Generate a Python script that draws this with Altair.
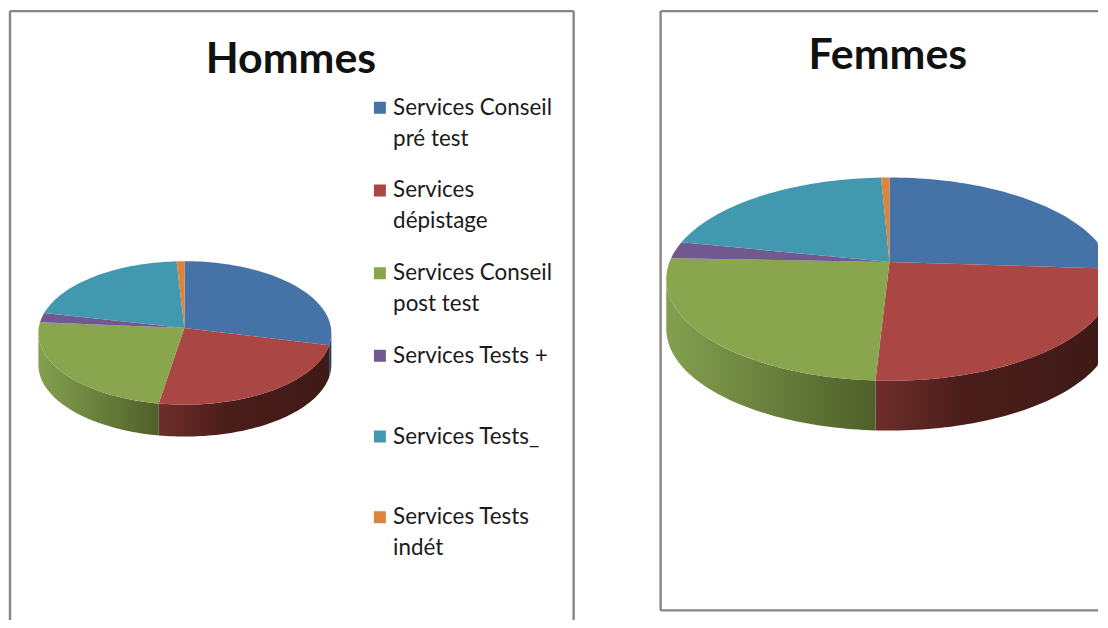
import math, json
import altair as alt

CATEGORIES = ["Services Conseil pré test", "Services dépistage", "Services Conseil post test",
              "Services Tests +", "Services Tests_", "Services Tests indét"]
LABEL_LINES = [["Services Conseil", "pré test"], ["Services", "dépistage"], ["Services Conseil", "post test"],
               ["Services Tests +"], ["Services Tests_"], ["Services Tests", "indét"]]
COLORS = ["#4573a7", "#aa4644", "#89a54e", "#71588f", "#4298af", "#db843d"]
WALLS = {
    0: [("#2b4a70", 0), ("#1d3350", 1)],
    1: [("#6e2e2b", 0), ("#4a1d1a", 0.4), ("#3f1a17", 1)],
    2: [("#83a04f", 0), ("#4f5f2a", 1)],
}
HOMMES = [27.7, 25.1, 24.5, 2.1, 19.6, 0.9]
FEMMES = [23.3, 27.7, 27.3, 2.6, 18.5, 0.6]
FRAME = "#868686"
OY = 8

def rim(cx, cy, rx, ry, t, xmax):
    r = math.radians(t)
    return [min(cx + rx * math.sin(r), xmax), cy - ry * math.cos(r)]

def collection(feats):
    return alt.InlineData(values={"type": "FeatureCollection", "features": feats},
                          format=alt.DataFormat(property="features", type="json"))

def feature(i, ring):
    return {"type": "Feature", "properties": {"name": CATEGORIES[i]},
            "geometry": {"type": "Polygon", "coordinates": [ring]}}

def pie_layers(values, apex, centre, rx, ry, depth, panel_x, w):
    ax, ay = apex[0] - panel_x, apex[1] - OY
    cx, cy = centre[0] - panel_x, centre[1] - OY
    feats, walls = [], []
    total = sum(values)
    t = 0.0
    for i, v in enumerate(values):
        t2 = t + 360.0 * v / total
        n = max(2, int((t2 - t) / 1.5))
        ts = [t + (t2 - t) * k / n for k in range(n + 1)]
        ring = [[ax, ay]] + [rim(cx, cy, rx, ry, a, w) for a in ts] + [[ax, ay]]
        feats.append(feature(i, ring))
        lo, hi = max(t, 90.0), min(t2, 270.0)
        if hi > lo and i in WALLS:
            n = max(2, int((hi - lo) / 1.5))
            ts = [lo + (hi - lo) * k / n for k in range(n + 1)]
            top = [rim(cx, cy, rx, ry, a, w) for a in ts]
            bot = [[p[0], p[1] + depth] for p in reversed(top)]
            walls.append((i, top + bot + [top[0]]))
        t = t2
    layers = []
    for i, ring in walls:
        grad = alt.Gradient(gradient="linear", x1=0, x2=1, y1=0, y2=0,
                            stops=[alt.GradientStop(offset=o, color=c) for c, o in WALLS[i]])
        layers.append(alt.Chart(collection([feature(i, ring)])).mark_geoshape(
            fill=grad, strokeWidth=0).project(type="identity", scale=1, translate=[0, 0]))
    return layers, collection(feats)

label_expr = json.dumps(dict(zip(CATEGORIES, LABEL_LINES)), ensure_ascii=False) + "[datum.label]"
legend = alt.Legend(orient="none", legendX=361, legendY=57.5, title=None, symbolType="square",
                    symbolSize=144, symbolStrokeWidth=0, labelFont="Lato", labelFontSize=22.5,
                    labelColor="#1a1a1a", labelExpr=label_expr, labelBaseline="top", labelLimit=300,
                    labelOffset=2, rowPadding=0, clipHeight=81, padding=0)

def frame_rule(x1, y1, x2, y2):
    return alt.Chart(alt.Data(values=[{"f": 1}])).mark_rule(color=FRAME, strokeWidth=2.4).encode(
        x=alt.value(x1), y=alt.value(y1), x2=alt.value(x2), y2=alt.value(y2))

def panel(name, values, apex, centre, rx, ry, depth, panel_x, w, h, title_xy, show_legend, frames):
    layers, top_data = pie_layers(values, apex, centre, rx, ry, depth, panel_x, w)
    color = alt.Color("properties.name:N",
                      scale=alt.Scale(domain=CATEGORIES, range=COLORS),
                      legend=legend if show_legend else None)
    top = alt.Chart(top_data).mark_geoshape(strokeWidth=0).encode(color=color).project(
        type="identity", scale=1, translate=[0, 0])
    title = alt.Chart(alt.Data(values=[{"t": name}])).mark_text(
        font="Lato", fontWeight="bold", fontSize=43, color="#111111", align="center", baseline="middle"
    ).encode(text="t:N", x=alt.value(title_xy[0] - panel_x), y=alt.value(title_xy[1] - OY))
    rules = [frame_rule(*f) for f in frames]
    return alt.layer(*layers, top, title, *rules).properties(width=w, height=h)

left = panel("Hommes", HOMMES, (184, 327), (184.5, 332), 147, 72, 32, 8, 568, 612, (291, 58), True,
             [(1, 1, 1, 612), (1, 1, 566.7, 1), (566.7, 1, 566.7, 612)])
right = panel("Femmes", FEMMES, (890.7, 260.7), (890.7, 278), 224, 102, 50, 660, 440, 612, (889, 54), False,
              [(1, 1, 1, 602.5), (1, 1, 440, 1), (1, 602.5, 440, 602.5)])

chart = alt.hconcat(left, right, spacing=84).configure(
    style={"guide-label": {"lineHeight": 31, "dy": -11}}, view=alt.ViewConfig(stroke=None)
).properties(background="white", padding=0)
chart.save("out.html", embed_options={"renderer": "svg", "actions": False})
